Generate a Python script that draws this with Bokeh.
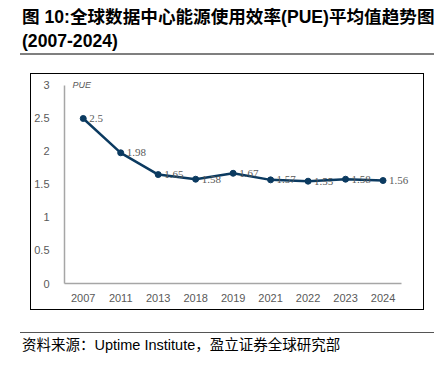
from bokeh.plotting import figure
from bokeh.layouts import column
from bokeh.models import Div, LabelSet, Label, Range1d, FixedTicker, ColumnDataSource
from bokeh.embed import file_html
from bokeh.resources import INLINE

years = ["2007", "2011", "2013", "2018", "2019", "2021", "2022", "2023", "2024"]
pue = [2.5, 1.98, 1.65, 1.58, 1.67, 1.57, 1.55, 1.58, 1.56]
pue_labels = ["2.5", "1.98", "1.65", "1.58", "1.67", "1.57", "1.55", "1.58", "1.56"]
y_ticks = [0, 0.5, 1, 1.5, 2, 2.5, 3]
title1 = "图 10:全球数据中心能源使用效率(PUE)平均值趋势图"
title2 = "(2007-2024)"
source_text = "资料来源：Uptime Institute，盈立证券全球研究部"
y_name = "PUE"

idx = list(range(len(years)))

# chart box on page: x 30..424, y 73..310 ; axes frame: x 62..401, y 85..283
p = figure(width=392, height=235, x_range=Range1d(-0.5, 9.0), y_range=Range1d(0, 3.136),
           output_backend="svg", toolbar_location=None,
           min_border_left=31, min_border_right=3, min_border_top=2, min_border_bottom=26,
           margin=0)
p.outline_line_color = None
p.grid.visible = False
p.background_fill_color = "white"
p.border_fill_color = "white"

for ax in (p.xaxis, p.yaxis):
    ax.axis_line_color = "#a6a6a6"
    ax.axis_line_width = 1.5
    ax.major_tick_line_color = None
    ax.minor_tick_line_color = None
    ax.major_label_text_color = "#595959"
    ax.major_label_text_font = "Liberation Sans"
    ax.major_label_text_font_size = "11px"
p.yaxis.ticker = FixedTicker(ticks=y_ticks)
p.yaxis.bounds = (0, 3)
p.yaxis.major_label_standoff = 9
p.xaxis.ticker = FixedTicker(ticks=idx)
p.xaxis.major_label_overrides = {i: y for i, y in zip(idx, years)}
p.xaxis.bounds = (-0.5, len(years) - 0.5)
p.xaxis.major_label_standoff = 4

src = ColumnDataSource(dict(x=idx, y=pue, t=pue_labels))
p.line("x", "y", source=src, line_color="#0b3a60", line_width=2.5)
p.scatter("x", "y", source=src, size=6, color="#0b3a60")
p.add_layout(LabelSet(x="x", y="y", text="t", source=src, x_offset=6, text_baseline="middle",
                      text_font_size="11px", text_color="#595959", text_font="Liberation Sans"))
p.add_layout(Label(x=8, y=199, x_units="screen", y_units="screen", text=y_name,
                   text_font="Liberation Sans", text_font_size="9px", text_font_style="italic",
                   text_baseline="middle", text_color="#595959"))

chart_box = column(p, margin=(18, 0, 0, 30), spacing=0,
                   styles={"border": "1.5px solid black"})

title_div = Div(text=title1 + "<br>" + title2, width=420, margin=(0, 0, 0, 20),
                styles={"font-family": "Liberation Sans, Noto Sans CJK SC", "font-size": "17.6px",
                        "font-weight": "bold", "line-height": "24px", "padding-top": "5px",
                        "padding-left": "2px", "border-bottom": "2px solid #7f7f7f",
                        "white-space": "nowrap", "width": "414px",
                        "color": "black", "box-sizing": "border-box", "height": "55px"})
source_div = Div(text=source_text, width=414, margin=(22, 0, 0, 20),
                 styles={"font-family": "Liberation Sans, Noto Sans CJK SC", "font-size": "14.5px",
                         "line-height": "20px", "padding-top": "2px", "padding-left": "2px",
                         "white-space": "nowrap",
                         "border-top": "1px solid #555555", "color": "black"})

layout = column(title_div, chart_box, source_div, spacing=0)
open("out.html", "w").write(file_html(layout, INLINE))
